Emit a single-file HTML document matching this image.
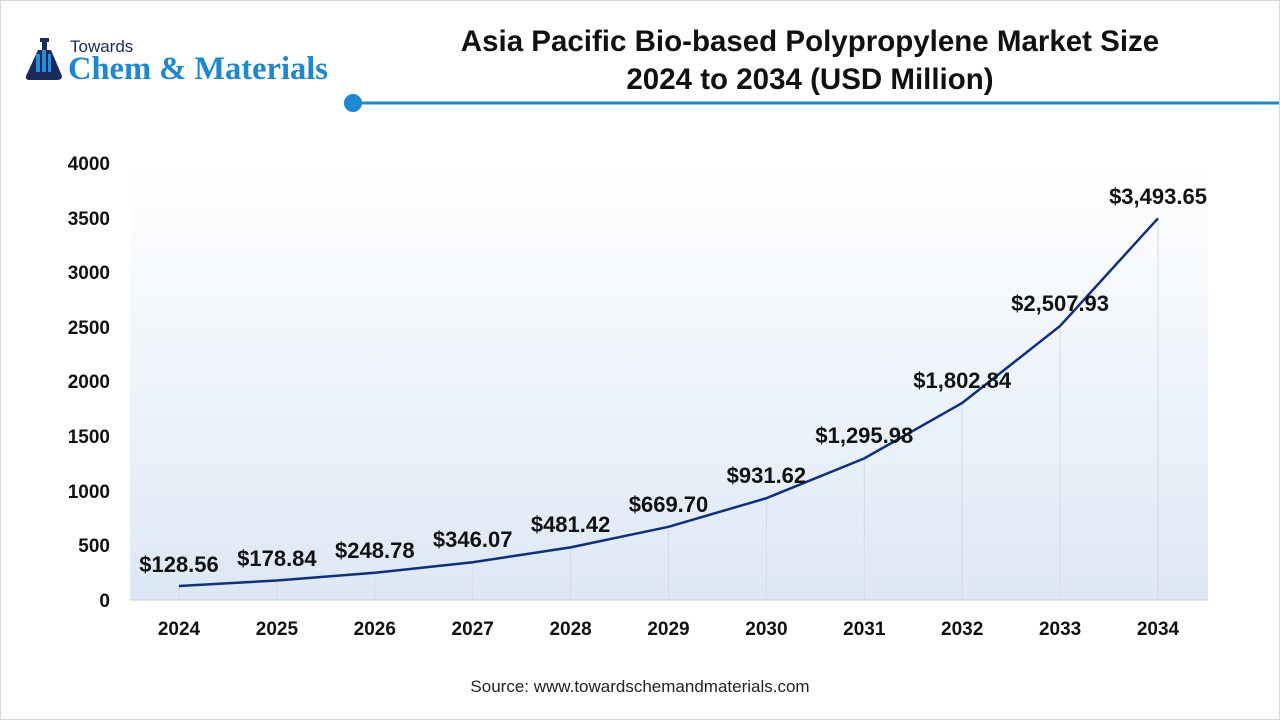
<!DOCTYPE html>
<html><head><meta charset="utf-8"><style>
body{margin:0;background:#fff;}
.wrap{position:relative;width:1278px;height:718px;border:1px solid #d9d9d9;overflow:hidden;font-family:"Liberation Sans",sans-serif;}
</style></head><body><div class="wrap">
<svg width="1280" height="720" style="position:absolute;left:-1px;top:-1px" font-family="Liberation Sans, sans-serif">
<defs><linearGradient id="g" x1="0" y1="0" x2="0" y2="1"><stop offset="0" stop-color="#ffffff"/><stop offset="1" stop-color="#dde8f5"/></linearGradient></defs>
<g>
<rect x="40" y="38" width="9" height="4" fill="#1b2a5a"/>
<rect x="42" y="42" width="5" height="8" fill="#1b2a5a"/>
<path d="M38 50 L51 50 L62 76 Q62 80 57 80 L30 80 Q25 80 26 76 Z" fill="#1b2a5a"/>
<rect x="36" y="54" width="4" height="18" fill="#2a8bd6"/><rect x="42" y="50" width="4" height="22" fill="#2a8bd6"/><rect x="48" y="54" width="3" height="18" fill="#2a8bd6"/>
<text x="70" y="52" font-size="17" fill="#1b2a5a">Towards</text>
<text x="68" y="79" font-size="32.5" font-weight="bold" fill="#1f86d0" font-family="Liberation Serif, serif">Chem &amp; Materials</text>
</g>
<text x="810" y="51" font-size="29.5" font-weight="bold" text-anchor="middle" fill="#111">Asia Pacific Bio-based Polypropylene Market Size</text>
<text x="810" y="89" font-size="29.5" font-weight="bold" text-anchor="middle" fill="#111">2024 to 2034 (USD Million)</text>
<line x1="352" y1="103" x2="1280" y2="103" stroke="#1f86d0" stroke-width="3"/>
<circle cx="353" cy="103" r="9" fill="#1f86d0"/>
<rect x="130" y="163" width="1078" height="437" fill="url(#g)"/>
<line x1="130" y1="600" x2="1208" y2="600" stroke="#ccd" stroke-width="1"/>
<g stroke="#d4dbe3" stroke-width="1">
<line x1="179" y1="586" x2="179" y2="600"/><line x1="276.9" y1="580" x2="276.9" y2="600"/><line x1="374.8" y1="573" x2="374.8" y2="600"/><line x1="472.7" y1="562" x2="472.7" y2="600"/><line x1="570.6" y1="547" x2="570.6" y2="600"/><line x1="668.5" y1="527" x2="668.5" y2="600"/><line x1="766.4" y1="498" x2="766.4" y2="600"/><line x1="864.3" y1="458" x2="864.3" y2="600"/><line x1="962.2" y1="403" x2="962.2" y2="600"/><line x1="1060.1" y1="326" x2="1060.1" y2="600"/><line x1="1158" y1="218" x2="1158" y2="600"/>
</g>
<g font-size="19" font-weight="bold" fill="#111" text-anchor="end">
<text x="110" y="607">0</text><text x="110" y="552">500</text><text x="110" y="498">1000</text><text x="110" y="443">1500</text><text x="110" y="388">2000</text><text x="110" y="334">2500</text><text x="110" y="279">3000</text><text x="110" y="225">3500</text><text x="110" y="170">4000</text>
</g>
<g font-size="19" font-weight="bold" fill="#111" text-anchor="middle">
<text x="179" y="635">2024</text><text x="276.9" y="635">2025</text><text x="374.8" y="635">2026</text><text x="472.7" y="635">2027</text><text x="570.6" y="635">2028</text><text x="668.5" y="635">2029</text><text x="766.4" y="635">2030</text><text x="864.3" y="635">2031</text><text x="962.2" y="635">2032</text><text x="1060.1" y="635">2033</text><text x="1158" y="635">2034</text>
</g>
<polyline fill="none" stroke="#0f2f7a" stroke-width="2.5" points="179,586 276.9,580.5 374.8,572.8 472.7,562.2 570.6,547.4 668.5,526.8 766.4,498.2 864.3,458.4 962.2,403 1060.1,326 1158,218.3"/>
<g font-size="22" font-weight="bold" fill="#111" text-anchor="middle">
<text x="179" y="572">$128.56</text><text x="276.9" y="566">$178.84</text><text x="374.8" y="558">$248.78</text><text x="472.7" y="547">$346.07</text><text x="570.6" y="532">$481.42</text><text x="668.5" y="512">$669.70</text><text x="766.4" y="483">$931.62</text><text x="864.3" y="443">$1,295.98</text><text x="962.2" y="388">$1,802.84</text><text x="1060.1" y="311">$2,507.93</text><text x="1158" y="204">$3,493.65</text>
</g>
<text x="640" y="692" font-size="17" text-anchor="middle" fill="#222">Source: www.towardschemandmaterials.com</text>
</svg>
</div></body></html>
